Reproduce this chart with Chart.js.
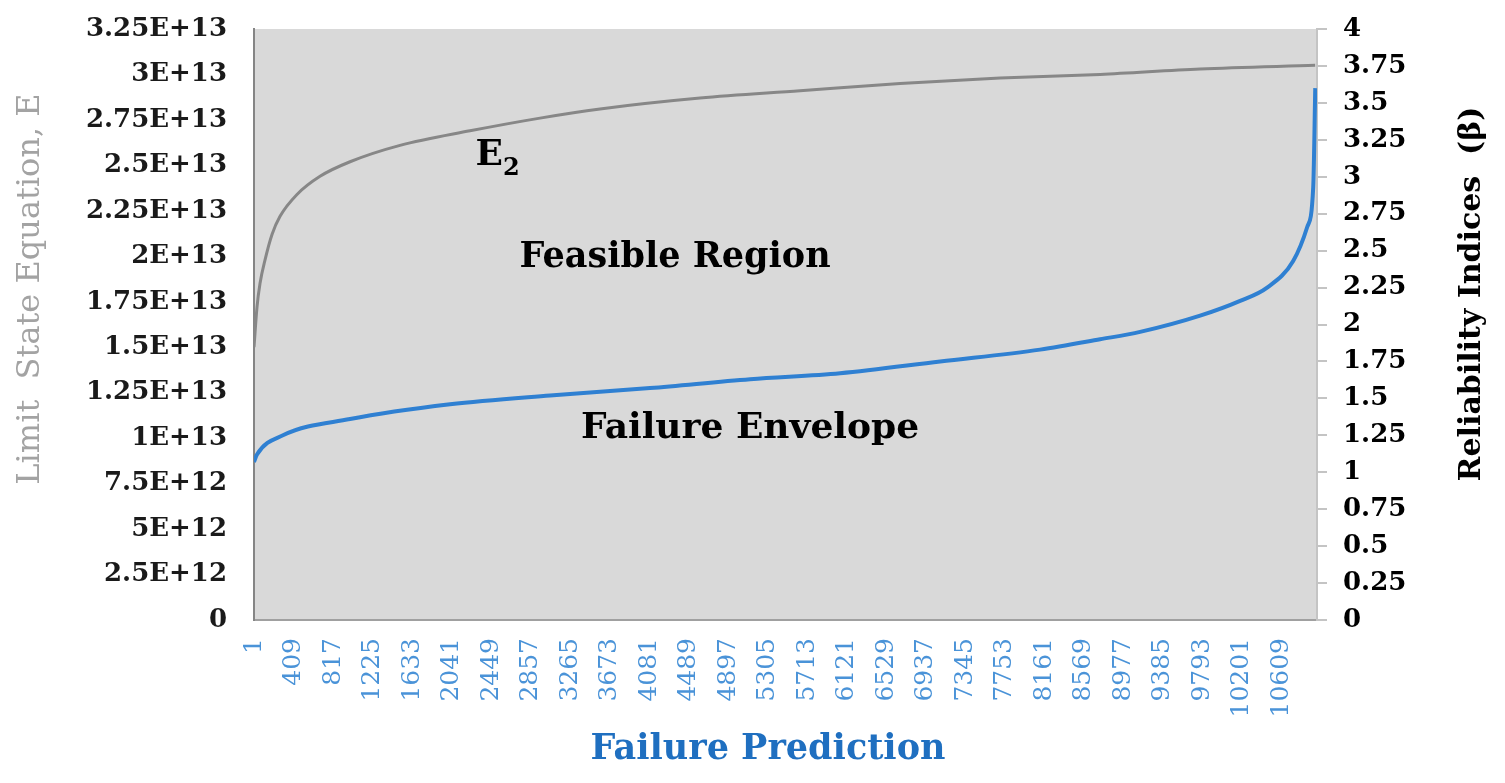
<!DOCTYPE html>
<html>
<head>
<meta charset="utf-8">
<script src="https://cdn.jsdelivr.net/npm/chart.js@4.4.0/dist/chart.umd.min.js"></script>
<style>
  html, body { margin: 0; padding: 0; background: #fff; }
  #wrap { width: 1505px; height: 783px; position: relative; }
</style>
</head>
<body>
<div id="wrap"><canvas id="chart"></canvas></div>
<script>
// --------- data ---------
const xTickLabels = [1, 409, 817, 1225, 1633, 2041, 2449, 2857, 3265, 3673, 4081, 4489, 4897, 5305,
  5713, 6121, 6529, 6937, 7345, 7753, 8161, 8569, 8977, 9385, 9793, 10201, 10609];

const leftTickValues = [0, 2.5e12, 5e12, 7.5e12, 1e13, 1.25e13, 1.5e13, 1.75e13, 2e13, 2.25e13, 2.5e13, 2.75e13, 3e13, 3.25e13];
const leftTickLabels = ['0', '2.5E+12', '5E+12', '7.5E+12', '1E+13', '1.25E+13', '1.5E+13', '1.75E+13',
  '2E+13', '2.25E+13', '2.5E+13', '2.75E+13', '3E+13', '3.25E+13'];

const rightTickValues = [0, 0.25, 0.5, 0.75, 1, 1.25, 1.5, 1.75, 2, 2.25, 2.5, 2.75, 3, 3.25, 3.5, 3.75, 4];
const rightTickLabels = ['0', '0.25', '0.5', '0.75', '1', '1.25', '1.5', '1.75', '2', '2.25', '2.5', '2.75',
  '3', '3.25', '3.5', '3.75', '4'];

// E2 (limit state equation, left axis)
const e2Index  = [1, 32, 63, 115, 187, 270, 445, 683, 993, 1509, 2232, 2955, 3575, 4608, 5641, 6674,
  7707, 8740, 9773, 10961];
const e2Values = [1.50e13, 1.72e13, 1.85e13, 1.98e13, 2.12e13, 2.22e13, 2.34e13, 2.44e13, 2.52e13, 2.61e13,
  2.69e13, 2.76e13, 2.81e13, 2.87e13, 2.91e13, 2.95e13, 2.98e13, 3.00e13, 3.03e13, 3.05e13];

// reliability index beta (right axis)
const betaIndex  = [1, 32, 300, 993, 2026, 3059, 4092, 5125, 6055, 7088, 8120, 8740, 9153, 9773,
  10186, 10465, 10734, 10879, 10941, 10962];
const betaValues = [1.07, 1.12, 1.25, 1.36, 1.46, 1.52, 1.57, 1.63, 1.67, 1.75, 1.83, 1.90, 1.95, 2.06,
  2.16, 2.25, 2.43, 2.66, 2.93, 3.60];

(() => {
    const FONT = '"DejaVu Serif", "Liberation Serif", serif';
    Chart.defaults.font.family = FONT;

    // plot area fill
    const bgPlugin = {
        id: 'plotBg',
        beforeDraw(chart) {
            const { ctx, chartArea: a } = chart;
            ctx.save();
            ctx.fillStyle = '#d9d9d9';
            ctx.fillRect(a.left, a.top, a.right - a.left, a.bottom - a.top);
            ctx.restore();
        }
    };

    // text inside the plot + axis titles
    const textPlugin = {
        id: 'texts',
        afterDraw(chart) {
            const { ctx, scales } = chart;
            const x = scales.x, y = scales.y;
            ctx.save();
            ctx.fillStyle = '#000';
            ctx.textBaseline = 'alphabetic';

            ctx.font = 'bold 35px ' + FONT;
            ctx.textAlign = 'center';
            ctx.fillText('Feasible Region', x.getPixelForValue(4350), y.getPixelForValue(1.94e13));
            ctx.font = 'bold 36px ' + FONT;
            ctx.fillText('Failure Envelope', x.getPixelForValue(5125), y.getPixelForValue(1.0e13));

            // E2
            ctx.textAlign = 'left';
            const ex = x.getPixelForValue(2290), ey = y.getPixelForValue(2.5e13);
            ctx.font = 'bold 36px ' + FONT;
            ctx.fillText('E', ex, ey);
            const ew = ctx.measureText('E').width;
            ctx.font = 'bold 24px ' + FONT;
            ctx.fillText('2', ex + ew, ey + 10);

            // left title
            ctx.textAlign = 'center';
            ctx.textBaseline = 'middle';
            ctx.save();
            ctx.translate(31, 289);
            ctx.rotate(-Math.PI / 2);
            ctx.fillStyle = '#a3a3a3';
            ctx.font = '32px ' + FONT;
            ctx.fillText('Limit  State Equation, E', 0, 0);
            ctx.restore();

            // right title
            ctx.save();
            ctx.translate(1472, 294);
            ctx.rotate(-Math.PI / 2);
            ctx.fillStyle = '#000';
            ctx.font = 'bold 30px ' + FONT;
            ctx.fillText('Reliability Indices  (\u03B2)', 0, 0);
            ctx.restore();

            // x title
            ctx.fillStyle = '#1f6fc0';
            ctx.font = 'bold 35px ' + FONT;
            ctx.fillText('Failure Prediction', 768, 750);
            ctx.restore();
        }
    };

    const chartEl = document.getElementById('chart');
    new Chart(chartEl, {
        type: 'line',
        data: {
            datasets: [{
                label: 'E2',
                data: e2Index.map((v, i) => ({ x: v, y: e2Values[i] })),
                yAxisID: 'y',
                borderColor: '#878787',
                borderWidth: 3,
                pointRadius: 0,
                cubicInterpolationMode: 'monotone'
            }, {
                label: 'Reliability index',
                data: betaIndex.map((v, i) => ({ x: v, y: betaValues[i] })),
                yAxisID: 'y1',
                borderColor: '#2f80d2',
                borderWidth: 4,
                pointRadius: 0,
                cubicInterpolationMode: 'monotone'
            }]
        },
        options: {
            responsive: true,
            maintainAspectRatio: false,
            animation: false,
            layout: { padding: { top: 29, left: 0, right: 0, bottom: 0 } },
            plugins: { legend: { display: false }, tooltip: { enabled: false } },
            scales: {
                x: {
                    type: 'linear',
                    min: 1,
                    max: 10980,
                    afterFit: s => { s.height = 163; },
                    afterBuildTicks: s => { s.ticks = xTickLabels.map(v => ({ value: v })); },
                    grid: { display: false, drawTicks: false },
                    border: { display: true, color: '#a0a0a0', width: 2 },
                    ticks: {
                        autoSkip: false,
                        minRotation: 90,
                        maxRotation: 90,
                        padding: 18,
                        color: '#4a93d8',
                        font: { size: 25 },
                        callback: v => String(v)
                    }
                },
                y: {
                    position: 'left',
                    min: 0,
                    max: 3.25e13,
                    afterFit: s => { s.width = 254; },
                    afterBuildTicks: s => { s.ticks = leftTickValues.map(v => ({ value: v })); },
                    // invisible tick marks give the gap between labels and axis
                    grid: { display: true, drawOnChartArea: false, drawTicks: true, tickLength: 27, color: 'rgba(0,0,0,0)' },
                    border: { display: true, color: '#858585', width: 2 },
                    ticks: {
                        padding: 0,
                        color: '#1a1a1a',
                        font: { size: 26, weight: 'bold', lineHeight: 1 },
                        callback: (v, i) => leftTickLabels[i]
                    }
                },
                y1: {
                    position: 'right',
                    min: 0,
                    max: 4,
                    afterFit: s => { s.width = 188; },
                    afterBuildTicks: s => { s.ticks = rightTickValues.map(v => ({ value: v })); },
                    grid: { display: true, drawOnChartArea: false, drawTicks: true, tickLength: 10, color: '#c4c4c4', lineWidth: 2 },
                    border: { display: true, color: '#c4c4c4', width: 2 },
                    ticks: {
                        padding: 16,
                        color: '#000',
                        font: { size: 26, weight: 'bold', lineHeight: 1 },
                        callback: (v, i) => rightTickLabels[i]
                    }
                }
            }
        },
        plugins: [bgPlugin, textPlugin]
    });
})();
</script>
</body>
</html>
